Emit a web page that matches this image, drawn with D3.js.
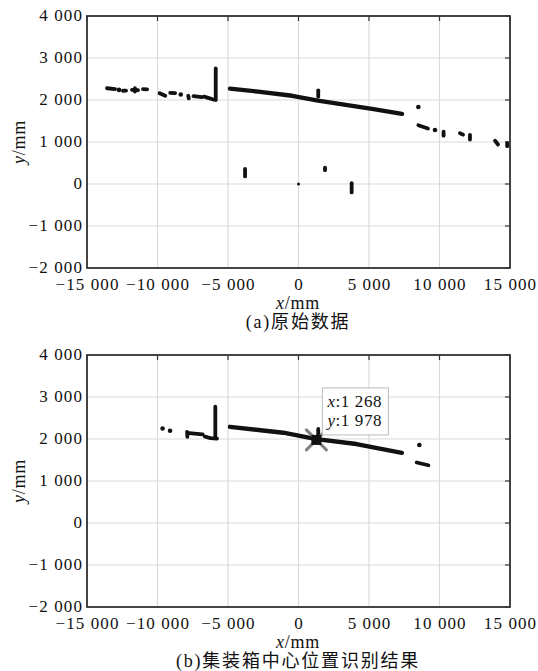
<!DOCTYPE html>
<html>
<head>
<meta charset="utf-8">
<script src="https://cdn.jsdelivr.net/npm/d3@7"></script>
<style>
  body { margin: 0; background: #fff; }
  svg { display: block; }
  svg text { font-family: "Liberation Serif", "DejaVu Serif", "Noto Sans CJK SC", serif; fill: #111; }
</style>
</head>
<body>
<svg id="chart" width="538" height="671"></svg>
<script>
// axis ticks
var xTicks = [-15000, -10000, -5000, 0, 5000, 10000, 15000];
var yTicks = [-2000, -1000, 0, 1000, 2000, 3000, 4000];

// (a) raw scan: short dashes / small clusters, [x, y] in mm
var rawDashes = [
  [[-13580, 2280], [-13010, 2260]],
  [[-12730, 2240]],
  [[-12450, 2220], [-12230, 2225]],
  [[-11810, 2240], [-11380, 2235]],
  [[-11600, 2200], [-11600, 2280]],
  [[-11030, 2260], [-10740, 2255]],
  [[-9850, 2160], [-9450, 2100]],
  [[-9100, 2170], [-8750, 2165]],
  [[-8350, 2130]],
  [[-7820, 2100], [-7780, 2040]],
  [[-7450, 2090], [-6850, 2070]],
  [[-6700, 2080], [-6300, 2040], [-6050, 2010]],
  [[-5870, 2000], [-5870, 2750]],
  [[1400, 2080], [1400, 2230]],
  [[8500, 1835]],
  [[8500, 1400], [9180, 1320]],
  [[9680, 1286]],
  [[10290, 1245], [10290, 1150]],
  [[11450, 1210], [11670, 1175]],
  [[12160, 1170], [12160, 1060]],
  [[13940, 1030], [14150, 940]],
  [[14800, 975], [14800, 900]],
  [[-3790, 180], [-3790, 360]],
  [[0, 0]],
  [[1880, 330], [1880, 390]],
  [[3770, -200], [3770, 20]]
];
var rawLine = [[-4860, 2270], [-2870, 2200], [-450, 2100], [1380, 1985], [5210, 1790], [7340, 1670]];

// (b) recognition result
var resDashes = [
  [[-9640, 2250]],
  [[-9110, 2195]],
  [[-7900, 2170], [-7880, 2050]],
  [[-7750, 2140], [-6800, 2110]],
  [[-6650, 2060], [-6250, 2020], [-5780, 2010]],
  [[-5900, 2020], [-5900, 2770]],
  [[1400, 2100], [1400, 2240]],
  [[8570, 1857]],
  [[8380, 1440], [9210, 1375]]
];
var resLine = [[-4860, 2290], [-1080, 2150], [1268, 1998], [4110, 1880], [7330, 1670]];
var centre = { x: 1268, y: 1978 };

var fmt = d3.formatLocale({decimal: ".", thousands: " ", grouping: [3], currency: ["", ""], minus: "\u2212"}).format(",d");

var svg = d3.select("#chart");

function panel(top, bottom, dashes, line, caption) {
  var x = d3.scaleLinear().domain([-15000, 15000]).range([87, 510]);
  var y = d3.scaleLinear().domain([-2000, 4000]).range([bottom, top]);
  var g = svg.append("g");

  // grid
  g.selectAll(".gx").data(xTicks).enter().append("line")
    .attr("x1", d => x(d)).attr("x2", d => x(d))
    .attr("y1", top).attr("y2", bottom)
    .attr("stroke", "#dadada").attr("stroke-width", 1.2);
  g.selectAll(".gy").data(yTicks).enter().append("line")
    .attr("x1", 87).attr("x2", 510)
    .attr("y1", d => y(d)).attr("y2", d => y(d))
    .attr("stroke", "#dadada").attr("stroke-width", 1.2);

  // inner ticks on right and top
  g.selectAll(".ty").data(yTicks).enter().append("line")
    .attr("x1", 510).attr("x2", 505)
    .attr("y1", d => y(d)).attr("y2", d => y(d))
    .attr("stroke", "#333").attr("stroke-width", 1.2);
  g.selectAll(".tx").data(xTicks).enter().append("line")
    .attr("x1", d => x(d)).attr("x2", d => x(d))
    .attr("y1", top).attr("y2", top + 5)
    .attr("stroke", "#333").attr("stroke-width", 1.2);

  // data
  var path = d3.line().x(d => x(d[0])).y(d => y(d[1]));
  dashes.forEach(function (s) {
    if (s.length == 1) {
      g.append("circle").attr("cx", x(s[0][0])).attr("cy", y(s[0][1]))
        .attr("r", s[0][0] == 0 && s[0][1] == 0 ? 1.5 : 2.3).attr("fill", "#111");
    } else {
      g.append("path").attr("d", path(s)).attr("fill", "none")
        .attr("stroke", "#111").attr("stroke-width", 3.8)
        .attr("stroke-linecap", "round").attr("stroke-linejoin", "round");
    }
  });
  g.append("path").attr("d", path(line)).attr("fill", "none")
    .attr("stroke", "#111").attr("stroke-width", 4.4)
    .attr("stroke-linecap", "round").attr("stroke-linejoin", "round");

  // frame
  g.append("rect").attr("x", 87).attr("y", top).attr("width", 423).attr("height", bottom - top)
    .attr("fill", "none").attr("stroke", "#333").attr("stroke-width", 1.8);

  // tick labels
  var ax = g.append("g").attr("transform", "translate(0," + bottom + ")")
    .call(d3.axisBottom(x).tickValues(xTicks).tickSize(0).tickPadding(10).tickFormat(fmt));
  var ay = g.append("g").attr("transform", "translate(87,0)")
    .call(d3.axisLeft(y).tickValues(yTicks).tickSize(0).tickPadding(4).tickFormat(fmt));
  [ax, ay].forEach(function (a) {
    a.select(".domain").remove();
    a.selectAll("text").attr("font-size", 17).attr("letter-spacing", 1.1);
  });
  ay.selectAll("text").attr("dy", "0.26em");

  // axis titles
  var xl = g.append("text").attr("x", 298).attr("y", bottom + 41).attr("text-anchor", "middle")
    .attr("font-size", 18).attr("letter-spacing", 0.8);
  xl.append("tspan").attr("font-style", "italic").text("x");
  xl.append("tspan").text("/mm");
  var mid = (top + bottom) / 2;
  var yl = g.append("text").attr("transform", "translate(25," + mid + ") rotate(-90)")
    .attr("text-anchor", "middle").attr("font-size", 18).attr("letter-spacing", 0.8);
  yl.append("tspan").attr("font-style", "italic").text("y");
  yl.append("tspan").text("/mm");

  g.append("text").attr("x", 298).attr("y", bottom + 60).attr("text-anchor", "middle")
    .attr("font-size", 18).attr("letter-spacing", 1.8).text(caption);

  return {x: x, y: y, g: g};
}

panel(16, 268, rawDashes, rawLine, "(a)原始数据");
var b = panel(355, 607, resDashes, resLine, "(b)集装箱中心位置识别结果");

// centre marker and data tip
var cx = b.x(centre.x), cy = b.y(centre.y);
[[-1, -1], [1, -1], [-1, 1], [1, 1]].forEach(function (d) {
  b.g.append("line").attr("x1", cx + d[0] * 3).attr("y1", cy + d[1] * 3)
    .attr("x2", cx + d[0] * 10).attr("y2", cy + d[1] * 10)
    .attr("stroke", "#808080").attr("stroke-width", 3).attr("stroke-linecap", "round");
});
b.g.append("rect").attr("x", cx - 5).attr("y", cy - 5).attr("width", 10).attr("height", 10).attr("fill", "#111");

var tip = b.g.append("g").attr("transform", "translate(" + (cx + 6) + "," + (cy - 52) + ")");
tip.append("rect").attr("width", 66).attr("height", 47).attr("fill", "#fff")
  .attr("stroke", "#bbb").attr("stroke-width", 1);
[["x", centre.x], ["y", centre.y]].forEach(function (r, i) {
  var t = tip.append("text").attr("x", 5).attr("y", 19 + i * 19).attr("font-size", 17).attr("letter-spacing", 0.6);
  t.append("tspan").attr("font-style", "italic").text(r[0]);
  t.append("tspan").text(":" + fmt(r[1]));
});
</script>
</body>
</html>
